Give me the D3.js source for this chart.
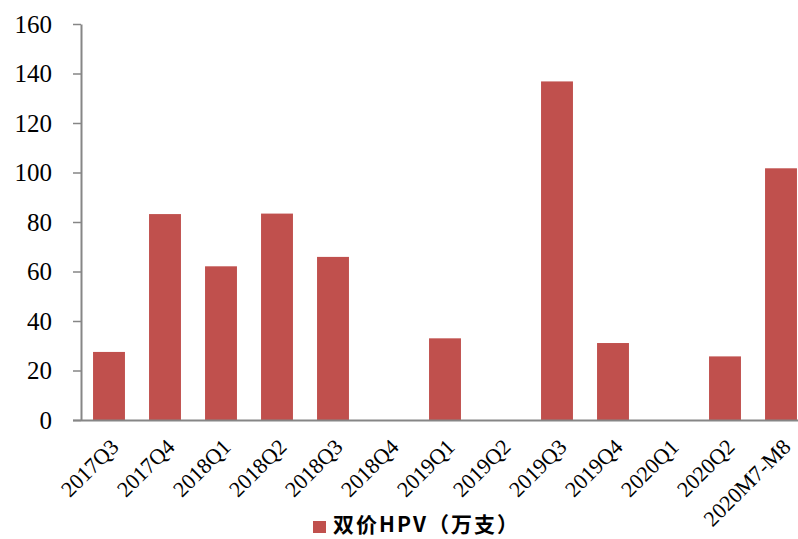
<!DOCTYPE html>
<html>
<head>
<meta charset="utf-8">
<script src="https://cdn.jsdelivr.net/npm/d3@7"></script>
<style>
html,body{margin:0;padding:0;background:#fff;}
svg{display:block;}
</style>
</head>
<body>
<svg id="chart" width="798" height="539"></svg>
<script>
const categories = ["2017Q3","2017Q4","2018Q1","2018Q2","2018Q3","2018Q4","2019Q1","2019Q2","2019Q3","2019Q4","2020Q1","2020Q2","2020M7-M8"];
const values = [27.5, 83.2, 62.1, 83.4, 65.9, 0, 33.0, 0, 136.8, 31.1, 0, 25.7, 101.7];
const yTicks = [0,20,40,60,80,100,120,140,160];
const seriesName = "双价HPV（万支）";

const svg = d3.select("#chart");
const mLeft = 81, mTop = 24, mBottom = 420, mRightEnd = 809;
const x = d3.scaleBand().domain(categories).range([mLeft, mRightEnd]).paddingInner(0.43).paddingOuter(0.215);
const y = d3.scaleLinear().domain([0,160]).range([mBottom, mTop]);
const axisColor = "#868686";
const barColor = "#C0504D";

svg.append("g").selectAll("rect").data(values).join("rect")
  .attr("x", (d,i)=>x(categories[i]))
  .attr("width", x.bandwidth())
  .attr("y", d=>y(d))
  .attr("height", d=>mBottom - y(d))
  .attr("fill", barColor);

const yAxis = svg.append("g").attr("transform", `translate(${mLeft},0)`)
  .call(d3.axisLeft(y).tickValues(yTicks).tickSize(8).tickPadding(21).tickSizeOuter(0));
yAxis.select(".domain").attr("stroke", axisColor).attr("stroke-width", 2);
yAxis.selectAll(".tick line").attr("stroke", axisColor).attr("stroke-width", 1.5);
yAxis.selectAll("text").attr("font-family", "'Liberation Serif','Times New Roman',serif").attr("font-size", 25).attr("fill", "#000");

const xAxis = svg.append("g").attr("transform", `translate(0,${mBottom})`)
  .call(d3.axisBottom(x).tickSize(0).tickSizeOuter(0));
xAxis.select(".domain").attr("stroke", axisColor).attr("stroke-width", 2).attr("d", `M${mLeft-8},0.5H${mRightEnd}`);
xAxis.selectAll(".tick text")
  .attr("font-family", "'Liberation Serif','Times New Roman',serif")
  .attr("font-size", 22).attr("fill", "#000")
  .attr("text-anchor", "end")
  .attr("dy", "0")
  .attr("transform", "translate(9,26) rotate(-45)");

const legend = svg.append("g");
legend.append("rect").attr("x", 313).attr("y", 521).attr("width", 13).attr("height", 12).attr("fill", barColor);
legend.append("text").attr("x", 333).attr("y", 532)
  .attr("font-family", "'Noto Sans CJK SC',sans-serif").attr("font-weight", "bold")
  .attr("font-size", 21).attr("letter-spacing", 2).attr("fill", "#000").text(seriesName);
</script>
</body>
</html>
